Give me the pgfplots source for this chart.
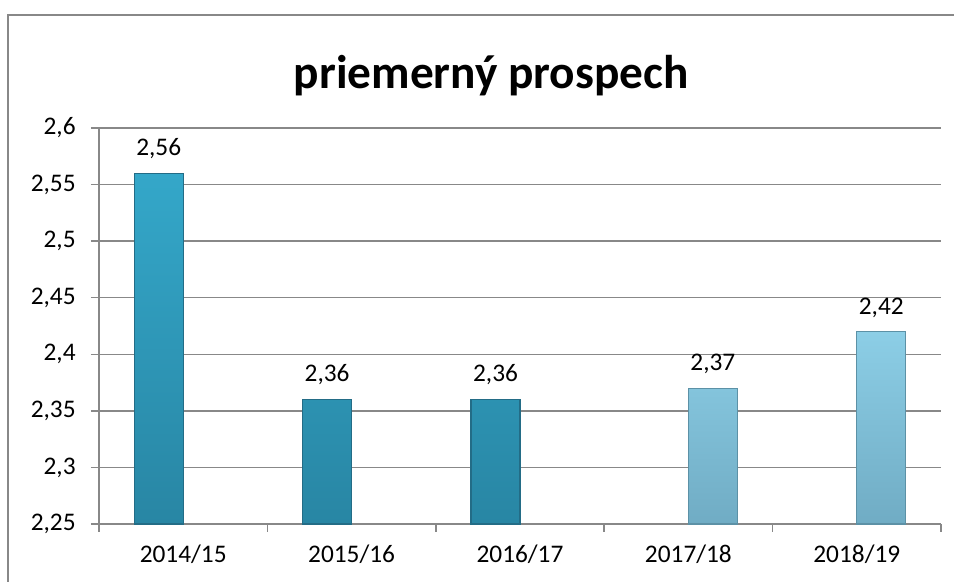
\documentclass[border=0pt]{standalone}
\usepackage{pgfplots}
\pgfplotsset{compat=1.18}
\usepackage{fontspec}
\setmainfont{Carlito}
\definecolor{gridgray}{RGB}{136,136,136}
\definecolor{darktop}{RGB}{52,167,201}
\definecolor{darkbot}{RGB}{40,134,164}
\definecolor{darkedge}{RGB}{35,108,134}
\definecolor{lighttop}{RGB}{140,206,230}
\definecolor{lightbot}{RGB}{112,172,196}
\definecolor{lightedge}{RGB}{92,145,166}
\begin{document}
\begin{tikzpicture}
\useasboundingbox (0,0) rectangle (715.5pt,436.5pt);
\draw[gridgray, line width=1.1pt] (6pt,-5pt) -- (6pt,425.25pt) -- (730pt,425.25pt);
\node[font=\fontsize{35.5}{40}\selectfont\bfseries, anchor=base] at (368.5pt,370pt) {priemerný prospech};
\begin{axis}[
  at={(74.25pt,43.5pt)}, anchor=south west,
  scale only axis, width=631.5pt, height=297pt,
  ybar=0pt, bar width=36.75pt,
  xmin=-0.5, xmax=4.5, ymin=2.25, ymax=2.6,
  xtick={0,1,2,3,4},
  xticklabels={2014/15,2015/16,2016/17,2017/18,2018/19},
  minor xtick={-0.5,0.5,1.5,2.5,3.5,4.5},
  major x tick style={draw=none},
  ytick={2.25,2.3,2.35,2.4,2.45,2.5,2.55,2.6},
  tick align=outside, major tick length=6pt, minor tick length=6pt,
  axis x line*=bottom, axis y line*=left,
  axis line style={gridgray, line width=1.1pt},
  tick style={gridgray, line width=1.1pt},
  ymajorgrids, grid style={gridgray, line width=1.1pt},
  ticklabel style={font=\fontsize{19}{22}\selectfont, text=black},
  yticklabel style={xshift=-8pt},
  xticklabel style={yshift=-6pt},
  nodes near coords,
  every node near coord/.append style={font=\fontsize{19}{22}\selectfont, text=black, yshift=7pt},
  clip=false,
  /pgf/number format/.cd, use comma, fixed, precision=2, assume math mode=true
]
\addplot[draw=darkedge, line width=0.9pt, top color=darktop, bottom color=darkbot] coordinates {(0,2.56) (1,2.36) (2,2.36)};
\addplot[draw=lightedge, line width=0.9pt, top color=lighttop, bottom color=lightbot] coordinates {(3,2.37) (4,2.42)};
\end{axis}
\end{tikzpicture}
\end{document}
